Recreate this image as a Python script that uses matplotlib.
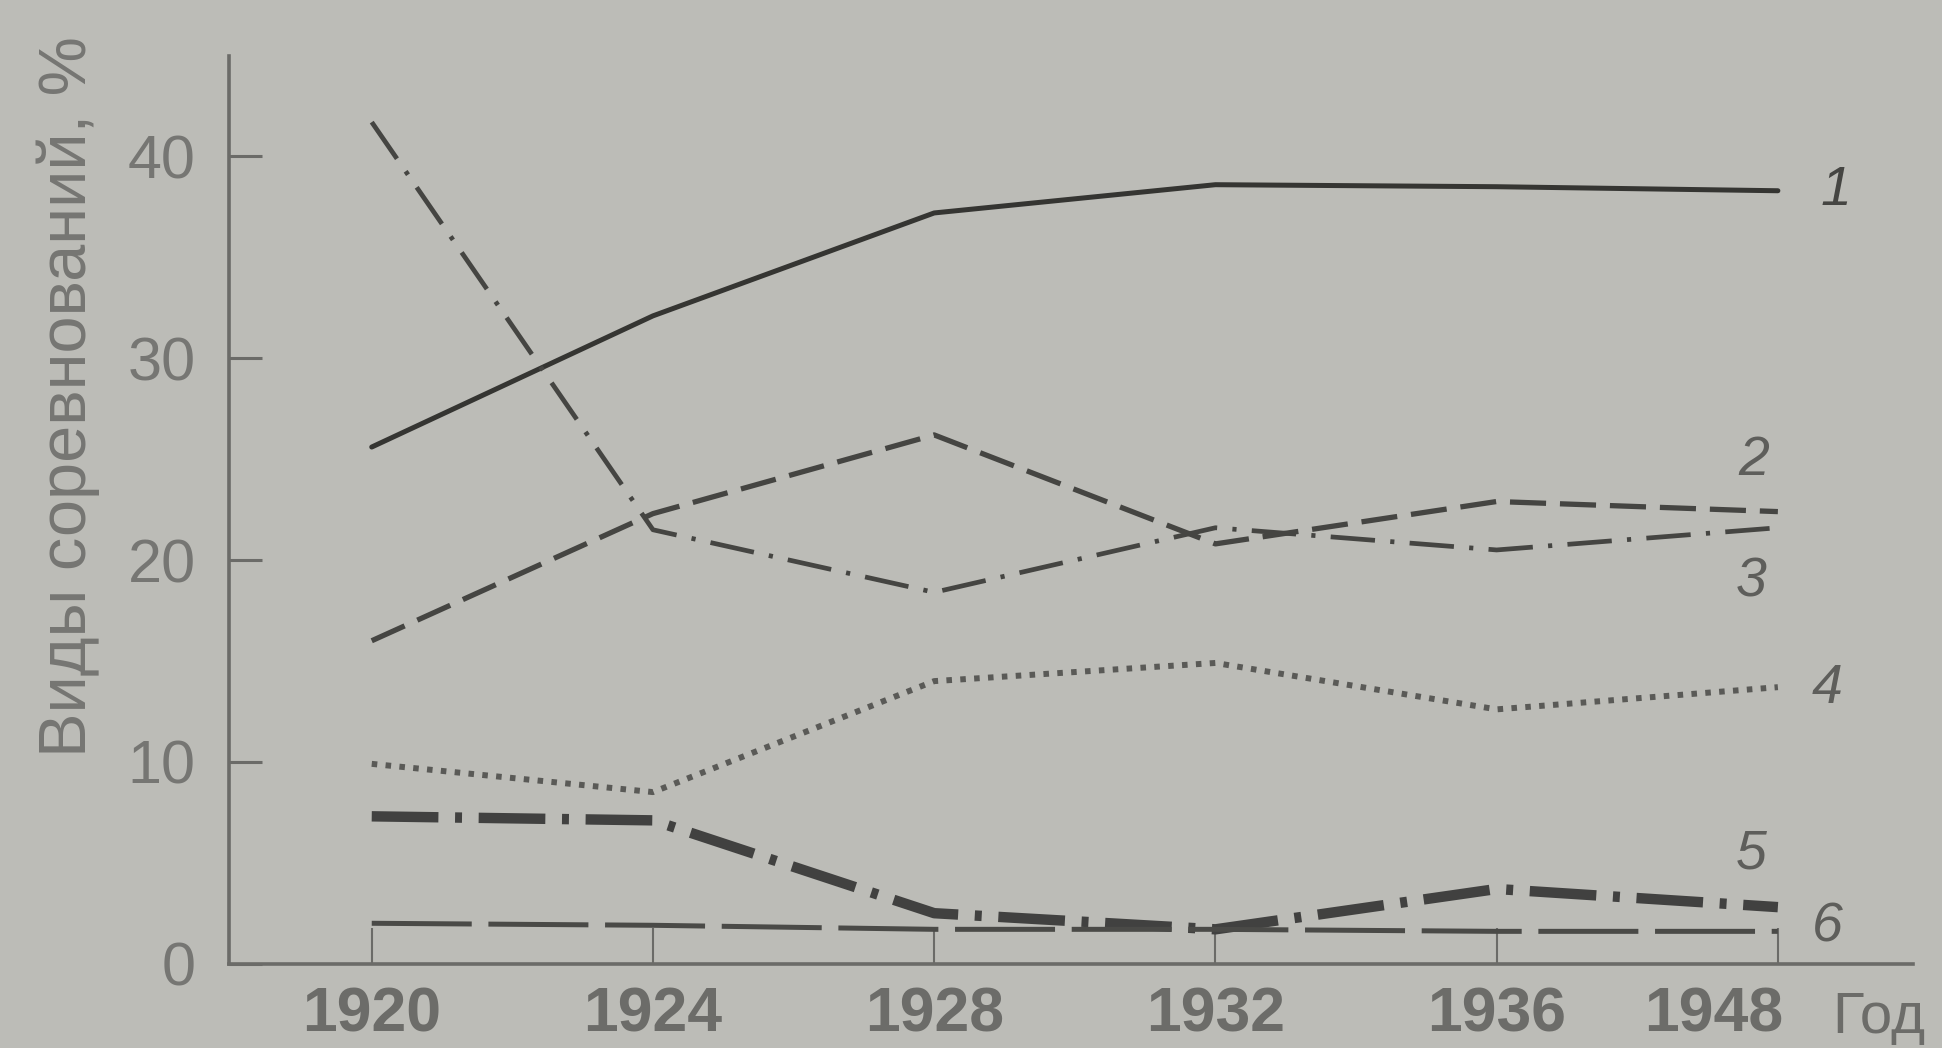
import matplotlib
matplotlib.use("Agg")
import matplotlib.pyplot as plt
import matplotlib.transforms as mtransforms

plt.rcParams['font.family'] = ['Liberation Sans', 'DejaVu Sans']
plt.rcParams['lines.scale_dashes'] = False

# ---- data ----
years = ["1920", "1924", "1928", "1932", "1936", "1948"]
series1 = [25.6, 32.1, 37.2, 38.6, 38.5, 38.3]
series2 = [16.0, 22.3, 26.2, 20.8, 22.9, 22.4]
series3 = [41.7, 21.5, 18.4, 21.6, 20.5, 21.6]
series4 = [9.9, 8.5, 14.0, 14.9, 12.6, 13.7]
series5 = [7.3, 7.1, 2.5, 1.7, 3.7, 2.8]
series6 = [2.0, 1.9, 1.7, 1.7, 1.6, 1.6]
curve_names = ["1", "2", "3", "4", "5", "6"]
name_x = [5.15, 4.86, 4.85, 5.12, 4.85, 5.12]
name_y = [38.3, 24.9, 18.9, 13.6, 5.4, 1.8]
y_ticks = [0, 10, 20, 30, 40]

BG = '#bcbcb7'
AX = '#6b6b68'
TXT = '#6c6c69'

fig = plt.figure(figsize=(19.42, 10.48), dpi=100, facecolor=BG)
ax = fig.add_axes([0.118, 0.0805, 0.867, 0.8665])
ax.set_facecolor(BG)

x = list(range(len(years)))
ax.plot(x, series1, color='#353532', lw=3.6, solid_capstyle='round')
ax.plot(x, series2, color='#454542', lw=3.8, dashes=(26, 10))
ax.plot(x, series3, color='#454542', lw=3.4, dashes=(32, 11, 3, 11))
ax.plot(x, series4, color='#5a5a57', lw=4.3, dashes=(4, 6))
ax.plot(x, series5, color='#414140', lw=7.5, dashes=(48, 12, 5, 12))
ax.plot(x, series6, color='#4a4a47', lw=3.6, dashes=(72, 12))

for nm, nx, ny in zip(curve_names, name_x, name_y):
    ax.text(nx, ny, nm, fontsize=40, style='italic',
            color='#454542' if nm == '1' else '#5e5e5b',
            ha='left', va='center')

ax.set_xlim(-0.507, 5.48)
ax.set_ylim(0, 45)
ax.set_xticks(x)
ax.set_xticklabels(years, fontweight='bold')
ax.set_yticks(y_ticks)

for s in ['top', 'right']:
    ax.spines[s].set_visible(False)
for s in ['left', 'bottom']:
    ax.spines[s].set_color(AX)
    ax.spines[s].set_linewidth(2.6)

ax.tick_params(axis='x', direction='in', length=26, width=1.5, color=AX,
               labelsize=45, labelcolor=TXT, pad=16)
ax.tick_params(axis='y', direction='in', length=24, width=2.2, color=AX,
               labelsize=44, labelcolor='#767673', pad=24)

# last year label sits left of its tick to leave room for "Год"
last = ax.get_xticklabels()[-1]
last.set_horizontalalignment('right')
last.set_transform(last.get_transform() + mtransforms.ScaledTranslation(4 / 72, 0, fig.dpi_scale_trans))

trans = mtransforms.blended_transform_factory(ax.transData, ax.transAxes)
ax.text(5.36, -0.060, "Год", transform=trans, fontsize=42, color=TXT,
        ha='center', va='center')

fig.text(0.035, 0.622, "Виды соревнований, %", rotation=90, fontsize=48,
         color='#767673', ha='center', va='center')

fig.savefig("out.png", dpi=100, facecolor=BG)
